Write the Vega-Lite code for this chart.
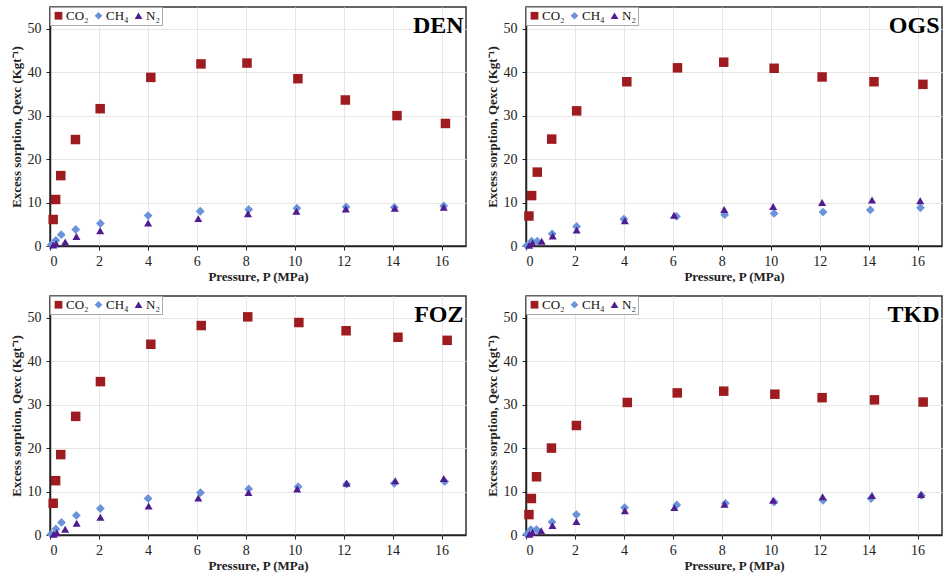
{
  "$schema": "https://vega.github.io/schema/vega-lite/v6.json",
  "padding": {"left": 9, "top": 5, "right": 0, "bottom": 0},
  "background": "white",
  "datasets": {
    "sorption": [
      {"site":"DEN","gas":"CO₂","P":0.13,"Q":6.1},{"site":"DEN","gas":"CO₂","P":0.23,"Q":10.7},{"site":"DEN","gas":"CO₂","P":0.44,"Q":16.2},{"site":"DEN","gas":"CO₂","P":1.04,"Q":24.5},{"site":"DEN","gas":"CO₂","P":2.05,"Q":31.6},{"site":"DEN","gas":"CO₂","P":4.12,"Q":38.8},{"site":"DEN","gas":"CO₂","P":6.17,"Q":41.9},{"site":"DEN","gas":"CO₂","P":8.05,"Q":42.1},{"site":"DEN","gas":"CO₂","P":10.13,"Q":38.5},{"site":"DEN","gas":"CO₂","P":12.07,"Q":33.6},{"site":"DEN","gas":"CO₂","P":14.18,"Q":30.0},{"site":"DEN","gas":"CO₂","P":16.16,"Q":28.2},
      {"site":"DEN","gas":"CH₄","P":0.05,"Q":0.3},{"site":"DEN","gas":"CH₄","P":0.24,"Q":1.3},{"site":"DEN","gas":"CH₄","P":0.46,"Q":2.6},{"site":"DEN","gas":"CH₄","P":1.05,"Q":3.8},{"site":"DEN","gas":"CH₄","P":2.06,"Q":5.2},{"site":"DEN","gas":"CH₄","P":4.01,"Q":7.0},{"site":"DEN","gas":"CH₄","P":6.14,"Q":8.0},{"site":"DEN","gas":"CH₄","P":8.12,"Q":8.4},{"site":"DEN","gas":"CH₄","P":10.09,"Q":8.7},{"site":"DEN","gas":"CH₄","P":12.1,"Q":9.0},{"site":"DEN","gas":"CH₄","P":14.07,"Q":8.9},{"site":"DEN","gas":"CH₄","P":16.09,"Q":9.2},
      {"site":"DEN","gas":"N₂","P":0.13,"Q":0.2},{"site":"DEN","gas":"N₂","P":0.25,"Q":0.5},{"site":"DEN","gas":"N₂","P":0.62,"Q":0.9},{"site":"DEN","gas":"N₂","P":1.08,"Q":2.2},{"site":"DEN","gas":"N₂","P":2.05,"Q":3.5},{"site":"DEN","gas":"N₂","P":4.01,"Q":5.3},{"site":"DEN","gas":"N₂","P":6.06,"Q":6.3},{"site":"DEN","gas":"N₂","P":8.09,"Q":7.4},{"site":"DEN","gas":"N₂","P":10.07,"Q":8.0},{"site":"DEN","gas":"N₂","P":12.09,"Q":8.5},{"site":"DEN","gas":"N₂","P":14.09,"Q":8.7},{"site":"DEN","gas":"N₂","P":16.09,"Q":8.9},

      {"site":"OGS","gas":"CO₂","P":0.12,"Q":6.9},{"site":"OGS","gas":"CO₂","P":0.23,"Q":11.6},{"site":"OGS","gas":"CO₂","P":0.46,"Q":17.0},{"site":"OGS","gas":"CO₂","P":1.05,"Q":24.6},{"site":"OGS","gas":"CO₂","P":2.07,"Q":31.1},{"site":"OGS","gas":"CO₂","P":4.12,"Q":37.8},{"site":"OGS","gas":"CO₂","P":6.19,"Q":41.0},{"site":"OGS","gas":"CO₂","P":8.08,"Q":42.3},{"site":"OGS","gas":"CO₂","P":10.14,"Q":40.9},{"site":"OGS","gas":"CO₂","P":12.1,"Q":38.9},{"site":"OGS","gas":"CO₂","P":14.22,"Q":37.8},{"site":"OGS","gas":"CO₂","P":16.22,"Q":37.2},
      {"site":"OGS","gas":"CH₄","P":0.03,"Q":0.1},{"site":"OGS","gas":"CH₄","P":0.23,"Q":1.1},{"site":"OGS","gas":"CH₄","P":0.46,"Q":1.1},{"site":"OGS","gas":"CH₄","P":1.07,"Q":2.8},{"site":"OGS","gas":"CH₄","P":2.07,"Q":4.5},{"site":"OGS","gas":"CH₄","P":4.0,"Q":6.2},{"site":"OGS","gas":"CH₄","P":6.15,"Q":6.8},{"site":"OGS","gas":"CH₄","P":8.12,"Q":7.2},{"site":"OGS","gas":"CH₄","P":10.14,"Q":7.5},{"site":"OGS","gas":"CH₄","P":12.14,"Q":7.8},{"site":"OGS","gas":"CH₄","P":14.07,"Q":8.3},{"site":"OGS","gas":"CH₄","P":16.12,"Q":8.8},
      {"site":"OGS","gas":"N₂","P":0.13,"Q":0.15},{"site":"OGS","gas":"N₂","P":0.27,"Q":0.7},{"site":"OGS","gas":"N₂","P":0.64,"Q":1.1},{"site":"OGS","gas":"N₂","P":1.09,"Q":2.3},{"site":"OGS","gas":"N₂","P":2.07,"Q":3.7},{"site":"OGS","gas":"N₂","P":4.04,"Q":5.8},{"site":"OGS","gas":"N₂","P":6.05,"Q":7.1},{"site":"OGS","gas":"N₂","P":8.1,"Q":8.4},{"site":"OGS","gas":"N₂","P":10.1,"Q":9.1},{"site":"OGS","gas":"N₂","P":12.1,"Q":10.0},{"site":"OGS","gas":"N₂","P":14.14,"Q":10.6},{"site":"OGS","gas":"N₂","P":16.11,"Q":10.4},

      {"site":"FOZ","gas":"CO₂","P":0.13,"Q":7.3},{"site":"FOZ","gas":"CO₂","P":0.23,"Q":12.5},{"site":"FOZ","gas":"CO₂","P":0.44,"Q":18.5},{"site":"FOZ","gas":"CO₂","P":1.05,"Q":27.3},{"site":"FOZ","gas":"CO₂","P":2.06,"Q":35.3},{"site":"FOZ","gas":"CO₂","P":4.12,"Q":43.9},{"site":"FOZ","gas":"CO₂","P":6.18,"Q":48.2},{"site":"FOZ","gas":"CO₂","P":8.08,"Q":50.2},{"site":"FOZ","gas":"CO₂","P":10.17,"Q":48.9},{"site":"FOZ","gas":"CO₂","P":12.1,"Q":47.0},{"site":"FOZ","gas":"CO₂","P":14.22,"Q":45.5},{"site":"FOZ","gas":"CO₂","P":16.23,"Q":44.8},
      {"site":"FOZ","gas":"CH₄","P":0.04,"Q":0.2},{"site":"FOZ","gas":"CH₄","P":0.24,"Q":1.4},{"site":"FOZ","gas":"CH₄","P":0.47,"Q":2.9},{"site":"FOZ","gas":"CH₄","P":1.08,"Q":4.5},{"site":"FOZ","gas":"CH₄","P":2.06,"Q":6.1},{"site":"FOZ","gas":"CH₄","P":4.01,"Q":8.4},{"site":"FOZ","gas":"CH₄","P":6.15,"Q":9.75},{"site":"FOZ","gas":"CH₄","P":8.12,"Q":10.6},{"site":"FOZ","gas":"CH₄","P":10.14,"Q":11.1},{"site":"FOZ","gas":"CH₄","P":12.12,"Q":11.7},{"site":"FOZ","gas":"CH₄","P":14.07,"Q":11.9},{"site":"FOZ","gas":"CH₄","P":16.13,"Q":12.3},
      {"site":"FOZ","gas":"N₂","P":0.15,"Q":0.15},{"site":"FOZ","gas":"N₂","P":0.28,"Q":0.5},{"site":"FOZ","gas":"N₂","P":0.62,"Q":1.3},{"site":"FOZ","gas":"N₂","P":1.09,"Q":2.7},{"site":"FOZ","gas":"N₂","P":2.06,"Q":4.1},{"site":"FOZ","gas":"N₂","P":4.03,"Q":6.7},{"site":"FOZ","gas":"N₂","P":6.06,"Q":8.5},{"site":"FOZ","gas":"N₂","P":8.11,"Q":9.75},{"site":"FOZ","gas":"N₂","P":10.1,"Q":10.6},{"site":"FOZ","gas":"N₂","P":12.12,"Q":11.9},{"site":"FOZ","gas":"N₂","P":14.11,"Q":12.5},{"site":"FOZ","gas":"N₂","P":16.09,"Q":13.0},

      {"site":"TKD","gas":"CO₂","P":0.12,"Q":4.7},{"site":"TKD","gas":"CO₂","P":0.22,"Q":8.4},{"site":"TKD","gas":"CO₂","P":0.43,"Q":13.4},{"site":"TKD","gas":"CO₂","P":1.04,"Q":20.0},{"site":"TKD","gas":"CO₂","P":2.06,"Q":25.2},{"site":"TKD","gas":"CO₂","P":4.14,"Q":30.5},{"site":"TKD","gas":"CO₂","P":6.18,"Q":32.7},{"site":"TKD","gas":"CO₂","P":8.08,"Q":33.1},{"site":"TKD","gas":"CO₂","P":10.17,"Q":32.4},{"site":"TKD","gas":"CO₂","P":12.1,"Q":31.6},{"site":"TKD","gas":"CO₂","P":14.24,"Q":31.1},{"site":"TKD","gas":"CO₂","P":16.23,"Q":30.6},
      {"site":"TKD","gas":"CH₄","P":0.03,"Q":0.15},{"site":"TKD","gas":"CH₄","P":0.2,"Q":1.25},{"site":"TKD","gas":"CH₄","P":0.43,"Q":1.25},{"site":"TKD","gas":"CH₄","P":1.06,"Q":3.0},{"site":"TKD","gas":"CH₄","P":2.06,"Q":4.7},{"site":"TKD","gas":"CH₄","P":4.03,"Q":6.3},{"site":"TKD","gas":"CH₄","P":6.16,"Q":6.9},{"site":"TKD","gas":"CH₄","P":8.15,"Q":7.3},{"site":"TKD","gas":"CH₄","P":10.14,"Q":7.6},{"site":"TKD","gas":"CH₄","P":12.14,"Q":8.0},{"site":"TKD","gas":"CH₄","P":14.1,"Q":8.4},{"site":"TKD","gas":"CH₄","P":16.16,"Q":9.1},
      {"site":"TKD","gas":"N₂","P":0.14,"Q":0.15},{"site":"TKD","gas":"N₂","P":0.27,"Q":0.6},{"site":"TKD","gas":"N₂","P":0.62,"Q":1.0},{"site":"TKD","gas":"N₂","P":1.08,"Q":2.2},{"site":"TKD","gas":"N₂","P":2.06,"Q":3.1},{"site":"TKD","gas":"N₂","P":4.04,"Q":5.6},{"site":"TKD","gas":"N₂","P":6.06,"Q":6.3},{"site":"TKD","gas":"N₂","P":8.11,"Q":7.1},{"site":"TKD","gas":"N₂","P":10.1,"Q":8.0},{"site":"TKD","gas":"N₂","P":12.12,"Q":8.8},{"site":"TKD","gas":"N₂","P":14.14,"Q":9.1},{"site":"TKD","gas":"N₂","P":16.14,"Q":9.3}
    ]
  },
  "columns": 2,
  "spacing": {"row": 10, "column": 18},
  "resolve": {"legend": {"color": "independent", "shape": "independent"}},
  "concat": [
    {"width": 416, "height": 239,
     "layer": [
       {"data": {"name": "sorption"}, "transform": [{"filter": "datum.site === 'DEN'"}],
        "mark": {"type": "point", "filled": true, "opacity": 1},
        "encoding": {
          "x": {"field": "P", "type": "quantitative", "scale": {"domain": [0, 17], "nice": false}, "axis": {"values": [0,2,4,6,8,10,12,14,16]}, "title": "Pressure, P (MPa)"},
          "y": {"field": "Q", "type": "quantitative", "scale": {"domain": [0, 55], "nice": false}, "axis": {"values": [0,10,20,30,40,50]}, "title": "Excess sorption, Qexc (Kgt⁻¹)"},
          "color": {"field": "gas", "type": "nominal", "scale": {"domain": ["CO₂","CH₄","N₂"], "range": ["#9E1B1F","#6B93DA","#4F1D8F"]}},
          "shape": {"field": "gas", "type": "nominal", "scale": {"domain": ["CO₂","CH₄","N₂"], "range": ["square","diamond","triangle-up"]}},
          "size": {"field": "gas", "type": "nominal", "scale": {"domain": ["CO₂","CH₄","N₂"], "range": [90, 65, 70]}, "legend": null}
        }},
       {"data": {"values": [{"label": "DEN"}]},
        "mark": {"type": "text", "font": "Liberation Serif", "fontWeight": "bold", "fontSize": 24, "align": "right", "baseline": "alphabetic", "fill": "black"},
        "encoding": {"x": {"datum": 16.9}, "y": {"datum": 49}, "text": {"field": "label"}}}
     ]},
    {"width": 416, "height": 239,
     "layer": [
       {"data": {"name": "sorption"}, "transform": [{"filter": "datum.site === 'OGS'"}],
        "mark": {"type": "point", "filled": true, "opacity": 1},
        "encoding": {
          "x": {"field": "P", "type": "quantitative", "scale": {"domain": [0, 17], "nice": false}, "axis": {"values": [0,2,4,6,8,10,12,14,16]}, "title": "Pressure, P (MPa)"},
          "y": {"field": "Q", "type": "quantitative", "scale": {"domain": [0, 55], "nice": false}, "axis": {"values": [0,10,20,30,40,50]}, "title": "Excess sorption, Qexc (Kgt⁻¹)"},
          "color": {"field": "gas", "type": "nominal", "scale": {"domain": ["CO₂","CH₄","N₂"], "range": ["#9E1B1F","#6B93DA","#4F1D8F"]}},
          "shape": {"field": "gas", "type": "nominal", "scale": {"domain": ["CO₂","CH₄","N₂"], "range": ["square","diamond","triangle-up"]}},
          "size": {"field": "gas", "type": "nominal", "scale": {"domain": ["CO₂","CH₄","N₂"], "range": [90, 65, 70]}, "legend": null}
        }},
       {"data": {"values": [{"label": "OGS"}]},
        "mark": {"type": "text", "font": "Liberation Serif", "fontWeight": "bold", "fontSize": 24, "align": "right", "baseline": "alphabetic", "fill": "black"},
        "encoding": {"x": {"datum": 16.9}, "y": {"datum": 49}, "text": {"field": "label"}}}
     ]},
    {"width": 416, "height": 239,
     "layer": [
       {"data": {"name": "sorption"}, "transform": [{"filter": "datum.site === 'FOZ'"}],
        "mark": {"type": "point", "filled": true, "opacity": 1},
        "encoding": {
          "x": {"field": "P", "type": "quantitative", "scale": {"domain": [0, 17], "nice": false}, "axis": {"values": [0,2,4,6,8,10,12,14,16]}, "title": "Pressure, P (MPa)"},
          "y": {"field": "Q", "type": "quantitative", "scale": {"domain": [0, 55], "nice": false}, "axis": {"values": [0,10,20,30,40,50]}, "title": "Excess sorption, Qexc (Kgt⁻¹)"},
          "color": {"field": "gas", "type": "nominal", "scale": {"domain": ["CO₂","CH₄","N₂"], "range": ["#9E1B1F","#6B93DA","#4F1D8F"]}},
          "shape": {"field": "gas", "type": "nominal", "scale": {"domain": ["CO₂","CH₄","N₂"], "range": ["square","diamond","triangle-up"]}},
          "size": {"field": "gas", "type": "nominal", "scale": {"domain": ["CO₂","CH₄","N₂"], "range": [90, 65, 70]}, "legend": null}
        }},
       {"data": {"values": [{"label": "FOZ"}]},
        "mark": {"type": "text", "font": "Liberation Serif", "fontWeight": "bold", "fontSize": 24, "align": "right", "baseline": "alphabetic", "fill": "black"},
        "encoding": {"x": {"datum": 16.9}, "y": {"datum": 49}, "text": {"field": "label"}}}
     ]},
    {"width": 416, "height": 239,
     "layer": [
       {"data": {"name": "sorption"}, "transform": [{"filter": "datum.site === 'TKD'"}],
        "mark": {"type": "point", "filled": true, "opacity": 1},
        "encoding": {
          "x": {"field": "P", "type": "quantitative", "scale": {"domain": [0, 17], "nice": false}, "axis": {"values": [0,2,4,6,8,10,12,14,16]}, "title": "Pressure, P (MPa)"},
          "y": {"field": "Q", "type": "quantitative", "scale": {"domain": [0, 55], "nice": false}, "axis": {"values": [0,10,20,30,40,50]}, "title": "Excess sorption, Qexc (Kgt⁻¹)"},
          "color": {"field": "gas", "type": "nominal", "scale": {"domain": ["CO₂","CH₄","N₂"], "range": ["#9E1B1F","#6B93DA","#4F1D8F"]}},
          "shape": {"field": "gas", "type": "nominal", "scale": {"domain": ["CO₂","CH₄","N₂"], "range": ["square","diamond","triangle-up"]}},
          "size": {"field": "gas", "type": "nominal", "scale": {"domain": ["CO₂","CH₄","N₂"], "range": [90, 65, 70]}, "legend": null}
        }},
       {"data": {"values": [{"label": "TKD"}]},
        "mark": {"type": "text", "font": "Liberation Serif", "fontWeight": "bold", "fontSize": 24, "align": "right", "baseline": "alphabetic", "fill": "black"},
        "encoding": {"x": {"datum": 16.9}, "y": {"datum": 49}, "text": {"field": "label"}}}
     ]}
  ],
  "config": {
    "view": {"stroke": "#333", "strokeWidth": 1.5},
    "axis": {
      "labelFont": "Liberation Serif", "labelFontSize": 14, "labelColor": "#222",
      "titleFont": "Liberation Serif", "titleFontSize": 13, "titleFontWeight": "bold", "titleColor": "#222",
      "domainColor": "#222", "domainWidth": 1.5, "tickColor": "#222", "tickSize": 4,
      "gridColor": "#e6e6e6", "gridWidth": 1, "labelPadding": 5, "titlePadding": 4
    },
    "axisX": {"labelPadding": 4, "titlePadding": 2},
    "legend": {
      "orient": "top-left", "offset": 0, "direction": "horizontal", "title": null,
      "padding": 2, "strokeColor": "#aaa", "fillColor": "white",
      "labelFont": "Liberation Serif", "labelFontSize": 13, "labelColor": "#111",
      "symbolSize": 60, "labelOffset": 1, "columnPadding": 2, "symbolOpacity": 1
    }
  }
}
